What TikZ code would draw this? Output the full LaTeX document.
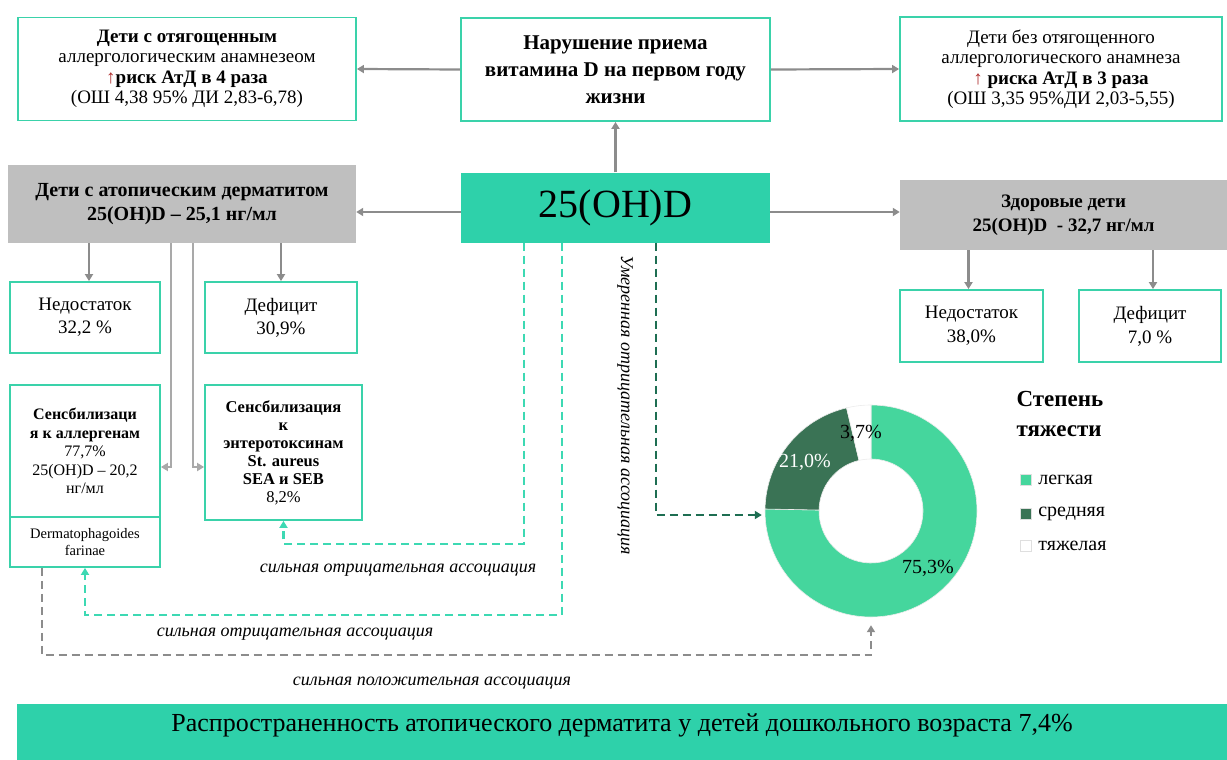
\documentclass[tikz,border=0pt]{standalone}
\usepackage{fontspec}
\setmainfont{Liberation Serif}
\usepackage{xcolor}
\usetikzlibrary{arrows.meta, positioning}
\definecolor{tealb}{HTML}{3AD2AA}
\definecolor{tealf}{HTML}{2ED1AA}
\definecolor{teald}{HTML}{3DD9B3}
\definecolor{grayf}{HTML}{BFBFBF}
\definecolor{arrgray}{HTML}{8C8C8C}
\definecolor{donlight}{HTML}{45D69D}
\definecolor{dondark}{HTML}{3A7355}
\definecolor{dashdark}{HTML}{1E6E52}
\definecolor{arrred}{HTML}{B03030}
\newcommand{\fsz}[2]{\fontsize{#1}{#2}\selectfont}

\begin{document}
\begin{tikzpicture}[x=1pt, y=-1pt, ->, >={Triangle[width=8pt,length=7pt]},
	box/.style={draw=tealb, line width=1.8pt, fill=white, align=center, inner sep=1pt},
	graybox/.style={fill=grayf, align=center, inner sep=1pt},
	arr/.style={draw=arrgray, line width=2.2pt},
	assoc/.style={line width=2.2pt, dash pattern=on 8pt off 5pt},
	assoclabel/.style={font=\fsz{18}{20}\itshape, inner sep=1pt},
	legsq/.style={minimum size=11pt, inner sep=0pt, draw=white!75!gray, line width=0.6pt}]
	
	\useasboundingbox (0,0) rectangle (1227,760);
	
	% Верхний ряд
	\node[box, minimum width=338pt, minimum height=103pt, font=\fsz{19}{20.5}] (anam) at (187,69)
		{\textbf{Дети с отягощенным}\\аллергологическим анамнезеом\\\textbf{\textcolor{arrred}{↑}риск АтД в 4 раза}\\(ОШ 4,38 95\% ДИ 2,83-6,78)};
	\node[box, minimum width=309pt, minimum height=103pt, font=\fsz{21}{27}\bfseries] (narush) at (615.5,69.5)
		{Нарушение приема\\витамина D на первом году\\жизни};
	\node[box, minimum width=322pt, minimum height=104pt, font=\fsz{19}{20.5}] (bezanam) at (1061,69)
		{Дети без отягощенного\\аллергологического анамнеза\\\textbf{\textcolor{arrred}{↑} риска АтД в 3 раза}\\(ОШ 3,35 95\%ДИ 2,03-5,55)};
	
	% Средний ряд
	\node[graybox, minimum width=348pt, minimum height=78pt, font=\fsz{20}{24}\bfseries] (atd) at (182,204)
		{Дети с атопическим дерматитом\\25(OH)D – 25,1 нг/мл};
	\node[fill=tealf, minimum width=309pt, minimum height=70pt, font=\fsz{40}{44}] (vitd) at (615.5,207.5) {25(OH)D};
	\node[graybox, minimum width=327pt, minimum height=70pt, font=\fsz{19}{24}\bfseries] (zdor) at (1063.5,215)
		{Здоровые дети\\25(OH)D\ \ - 32,7 нг/мл};
	
	% Дети с АтД
	\node[box, minimum width=150pt, minimum height=71pt, font=\fsz{19}{23}] (nedostL) at (85,317.5) {Недостаток\\32,2 \%};
	\node[box, minimum width=152pt, minimum height=71pt, font=\fsz{19}{23}] (deficL) at (281,317.5) {Дефицит\\30,9\%};
	\node[box, minimum width=150pt, minimum height=132pt, font=\fsz{16}{18.5}] (sensA) at (85,451)
		{\textbf{Сенсбилизаци}\\\textbf{я к аллергенам}\\77,7\%\\25(OH)D – 20,2\\нг/мл};
	\node[box, minimum width=150pt, minimum height=50pt, font=\fsz{14.5}{17}] (derm) at (85,542) {Dermatophagoides\\farinae};
	\node[box, minimum width=157pt, minimum height=135pt, font=\fsz{16.5}{18}] (sensE) at (283.5,452.5)
		{\textbf{Сенсбилизация}\\\textbf{к}\\\textbf{энтеротоксинам}\\\textbf{St. aureus}\\\textbf{SEA и SEB}\\8,2\%};
	
	% Здоровые дети
	\node[box, minimum width=143pt, minimum height=72pt, font=\fsz{19}{24}] (nedostR) at (971.5,326) {Недостаток\\38,0\%};
	\node[box, minimum width=142pt, minimum height=72pt, font=\fsz{19}{24}] (deficR) at (1150,326) {Дефицит\\7,0 \%};
	
	% Кольцевая диаграмма
	\node[circle, minimum size=212pt, inner sep=0pt] (donut) at (871,511) {};
	\begin{scope}[shift={(donut.center)}, yscale=-1, draw=white!85!gray, line width=0.6pt, -]
		\filldraw[fill=donlight] (90:106) arc[start angle=90, end angle=-181.08, radius=106]
			-- (-181.08:52) arc[start angle=-181.08, end angle=90, radius=52] -- cycle;
		\filldraw[fill=dondark] (178.92:106) arc[start angle=178.92, end angle=103.32, radius=106]
			-- (103.32:52) arc[start angle=103.32, end angle=178.92, radius=52] -- cycle;
		\filldraw[fill=white] (103.32:106) arc[start angle=103.32, end angle=90, radius=106]
			-- (90:52) arc[start angle=90, end angle=103.32, radius=52] -- cycle;
	\end{scope}
	\node[font=\fsz{20}{22}] (pS) at (861,433) {3,7\%};
	\node[font=\fsz{20}{22}, text=white] (pM) at (805,462) {21,0\%};
	\node[font=\fsz{20}{22}] (pL) at (928,568) {75,3\%};
	
	% Легенда
	\node[font=\fsz{23}{30}\bfseries, align=left, anchor=north west] (legtitle) at (1013,388) {Степень\\тяжести};
	\node[legsq, fill=donlight] (sqL) at (1026,480) {};
	\node[legsq, fill=dondark] (sqM) at (1026,514) {};
	\node[legsq, fill=white] (sqS) at (1026,546) {};
	\node[right=3pt of sqL, font=\fsz{20}{22}] (tL) {легкая};
	\node[right=3pt of sqM, font=\fsz{20}{22}] (tM) {средняя};
	\node[right=3pt of sqS, font=\fsz{20}{22}] (tS) {тяжелая};
	
	% Сплошные стрелки
	\draw[arr] (narush.west) -- (anam.east);
	\draw[arr] (narush.east) -- (bezanam.west);
	\draw[arr] (vitd.north) -- (narush.south);
	\draw[arr] ([yshift=-4.5pt]vitd.west) -- ([yshift=-4.5pt]vitd.west -| atd.east);
	\draw[arr] ([yshift=-4.5pt]vitd.east) -- ([yshift=-4.5pt]vitd.east -| zdor.west);
	\draw[arr] ([xshift=4pt]nedostL.north |- atd.south) -- ([xshift=4pt]nedostL.north);
	\draw[arr] (deficL.north |- atd.south) -- (deficL.north);
	\draw[arr, draw=arrgray!75] ([xshift=163pt]atd.south west) |- ([yshift=-16pt]sensA.east);
	\draw[arr, draw=arrgray!75] ([xshift=185pt]atd.south west) |- ([yshift=-14.5pt]sensE.west);
	\draw[arr] ([xshift=-3pt]nedostR.north |- zdor.south) -- ([xshift=-3pt]nedostR.north);
	\draw[arr] ([xshift=3pt]deficR.north |- zdor.south) -- ([xshift=3pt]deficR.north);
	
	% Ассоциации
	\draw[assoc, draw=teald] ([xshift=63pt]vitd.south west) |- ([yshift=-23pt]sensE.south) -- (sensE.south);
	\draw[assoc, draw=teald] ([xshift=101pt]vitd.south west) |- ([yshift=-47pt]derm.south) -- (derm.south);
	\draw[assoc, draw=dashdark, shorten >=3pt] ([xshift=195pt]vitd.south west) |- ([yshift=-4pt]donut.west);
	\draw[assoc, draw=arrgray] ([xshift=-43pt]derm.south) |- ([yshift=-38pt]donut.south) -- ([yshift=-8pt]donut.south);
	
	\node[assoclabel] (lab1) at (398,570) {сильная отрицательная ассоциация};
	\node[assoclabel] (lab2) at (295,634) {сильная отрицательная ассоциация};
	\node[assoclabel] (lab3) at (432,683) {сильная положительная ассоциация};
	\node[assoclabel, rotate=-90] (lab4) at (625,405) {Умеренная отрицательная ассоциация};
	
	% Нижняя полоса
	\node[fill=tealf, minimum width=1210pt, text height=26pt, text depth=28pt, inner sep=1pt, anchor=north,
		font=\fsz{26}{28}] (prev) at (622,704)
		{Распространенность атопического дерматита у детей дошкольного возраста 7,4\%};
	
\end{tikzpicture}
\end{document}
